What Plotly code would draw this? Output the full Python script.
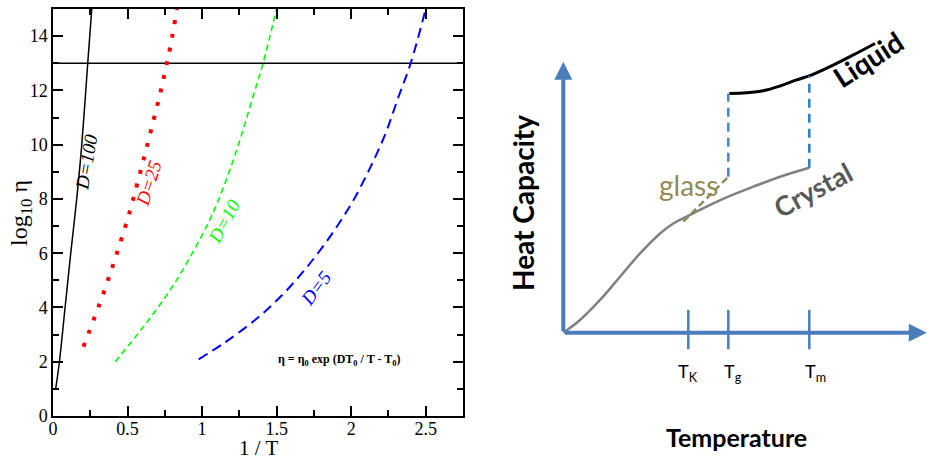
import plotly.graph_objects as go

# ---------------- Left panel data (1/T vs log10 eta) ----------------
d100_x = [0.018, 0.043, 0.081, 0.119, 0.159, 0.193, 0.233, 0.26]
d100_y = [1.0, 2.0, 4.0, 6.0, 8.0, 10.0, 13.0, 15.0]

d25_x = [0.204, 0.338, 0.432, 0.517, 0.569, 0.618, 0.665, 0.714, 0.75, 0.79, 0.831]
d25_y = [2.55, 4.52, 6.06, 7.57, 8.64, 9.68, 10.7, 11.77, 12.65, 13.7, 15.0]

d10_x = [0.417, 0.607, 0.786, 0.921, 1.04, 1.11, 1.194, 1.268, 1.335, 1.409, 1.499]
d10_y = [2.0, 3.29, 4.64, 5.87, 7.1, 7.96, 9.19, 10.42, 11.65, 13.0, 15.0]

d5_x = [0.977, 1.145, 1.369, 1.548, 1.705, 1.843, 1.948, 2.02, 2.131, 2.231, 2.31, 2.399, 2.5]
d5_y = [2.09, 2.68, 3.6, 4.52, 5.5, 6.49, 7.35, 8.0, 9.19, 10.42, 11.65, 13.0, 15.0]

glass_viscosity = 13
x_limits = [0, 2.75]
x_ticks = [0, 0.5, 1, 1.5, 2, 2.5]
x_ticklabels = ["0", "0.5", "1", "1.5", "2", "2.5"]
y_ticks = [0, 2, 4, 6, 8, 10, 12, 14]

# ---------------- Right panel data (schematic heat capacity) ----------------
crystal_T = [0, 0.67, 1.47, 2.27, 3.07, 3.87, 4.4, 4.93, 5.73, 6.6, 7.6, 8.67, 9.84]
crystal_C = [0, 0.51, 1.31, 2.24, 3.17, 3.97, 4.37, 4.64, 5.04, 5.44, 5.84, 6.24, 6.6]
liquid_T = [6.64, 7.33, 8.0, 8.67, 9.33, 9.84, 10.67, 11.6, 12.47]
liquid_C = [9.57, 9.6, 9.68, 9.87, 10.11, 10.27, 10.64, 11.11, 11.57]
glass_T = [4.8, 6.6]
glass_C = [4.44, 6.24]
T_K, T_g, T_m = 5.0, 6.6, 9.84
Tg_jump = [6.24, 9.57]
Tm_jump = [6.6, 10.27]
axis_T_end = 14.54
axis_C_end = 10.84
tick_span = [-0.66, 0.91]

serif = "Liberation Serif"
sans = "Lato"
axis_blue = "#4a7ebb"

fig = go.Figure()

# left panel traces
fig.add_trace(go.Scatter(x=x_limits, y=[glass_viscosity, glass_viscosity], mode="lines",
                         line=dict(color="black", width=1.5), xaxis="x", yaxis="y"))
fig.add_trace(go.Scatter(x=d100_x, y=d100_y, mode="lines", line=dict(color="black", width=1.5, shape="spline"),
                         xaxis="x", yaxis="y"))
fig.add_trace(go.Scatter(x=d25_x, y=d25_y, mode="lines",
                         line=dict(color="#ff0000", width=4, dash="4px,10px", shape="spline"),
                         xaxis="x", yaxis="y"))
fig.add_trace(go.Scatter(x=d10_x, y=d10_y, mode="lines",
                         line=dict(color="#00ff00", width=1.6, dash="6px,4px", shape="spline"),
                         xaxis="x", yaxis="y"))
fig.add_trace(go.Scatter(x=d5_x, y=d5_y, mode="lines",
                         line=dict(color="#0000ff", width=2, dash="10px,6px", shape="spline"),
                         xaxis="x", yaxis="y"))

# right panel traces
fig.add_trace(go.Scatter(x=crystal_T, y=crystal_C, mode="lines",
                         line=dict(color="#808080", width=2.5, shape="spline"), xaxis="x2", yaxis="y2"))
fig.add_trace(go.Scatter(x=liquid_T, y=liquid_C, mode="lines",
                         line=dict(color="black", width=3, shape="spline"), xaxis="x2", yaxis="y2"))
fig.add_trace(go.Scatter(x=glass_T, y=glass_C, mode="lines",
                         line=dict(color="#948a54", width=2.5, dash="7px,4px"), xaxis="x2", yaxis="y2"))
fig.add_trace(go.Scatter(x=[T_g, T_g], y=Tg_jump, mode="lines",
                         line=dict(color="#4a86c8", width=2.5, dash="9px,6px"), xaxis="x2", yaxis="y2"))
fig.add_trace(go.Scatter(x=[T_m, T_m], y=Tm_jump, mode="lines",
                         line=dict(color="#2a7cc7", width=2.5, dash="9px,6px"), xaxis="x2", yaxis="y2"))
for t in [T_K, T_g, T_m]:
    fig.add_trace(go.Scatter(x=[t, t], y=tick_span, mode="lines",
                             line=dict(color=axis_blue, width=2.5), xaxis="x2", yaxis="y2"))

annotations = []
# axis arrows
annotations.append(dict(x=axis_T_end, y=0, ax=0, ay=0, xref="x2", yref="y2", axref="x2", ayref="y2",
                        text="", showarrow=True, arrowhead=2, arrowsize=0.9, arrowwidth=4, arrowcolor=axis_blue))
annotations.append(dict(x=0, y=axis_C_end, ax=0, ay=0, xref="x2", yref="y2", axref="x2", ayref="y2",
                        text="", showarrow=True, arrowhead=2, arrowsize=0.9, arrowwidth=4, arrowcolor=axis_blue))

# left panel labels
def lab(x, y, text, color, angle, size=19):
    annotations.append(dict(x=x, y=y, xref="x", yref="y", text=text, showarrow=False, textangle=angle,
                            xanchor="center", yanchor="middle",
                            font=dict(family=serif, size=size, color=color)))

lab(0.226, 9.37, "<i>D=100</i>", "black", -80)
lab(0.64, 8.58, "<i>D=25</i>", "#ff0000", -72)
lab(1.149, 7.16, "<i>D=10</i>", "#00ff00", -62)
lab(1.761, 4.71, "<i>D=5</i>", "#0000ff", -53)
annotations.append(dict(x=1.915, y=2.07, xref="x", yref="y", showarrow=False,
                        xanchor="center", yanchor="middle",
                        text="<b>η = η<sub>0</sub> exp (DT<sub>0</sub> / T - T<sub>0</sub>)</b>",
                        font=dict(family=serif, size=12, color="black")))
annotations.append(dict(x=21 / 927, y=1 - 213 / 461, xref="paper", yref="paper", showarrow=False,
                        xanchor="center", yanchor="middle",
                        text="log<sub>10</sub> η", textangle=-90, font=dict(family=serif, size=24, color="black")))
annotations.append(dict(x=258 / 927, y=1 - 448 / 461, xref="paper", yref="paper", showarrow=False,
                        xanchor="center", yanchor="middle",
                        text="1 / T", font=dict(family=serif, size=21, color="black")))

# right panel labels
def rlab(x, y, text, color, angle=0, size=22, bold=True):
    annotations.append(dict(x=x, y=y, xref="x2", yref="y2", text=("<b>%s</b>" % text) if bold else text,
                            showarrow=False, textangle=angle, xanchor="center", yanchor="middle",
                            font=dict(family=sans, size=size, color=color)))

rlab(5.0, 5.91, "glass", "#948a54", 0, 28, False)
rlab(10.0, 5.71, "Crystal", "#595959", -28, 27)
rlab(12.2, 10.94, "Liquid", "black", -33, 28)
rlab(-1.61, 5.19, "Heat Capacity", "black", -90, 28)
rlab(6.94, -4.17, "Temperature", "black", 0, 25)
rlab(T_K, -1.61, "T<sub>K</sub>", "black", 0, 18, False)
rlab(T_g + 0.19, -1.61, "T<sub>g</sub>", "black", 0, 18, False)
rlab(T_m + 0.23, -1.61, "T<sub>m</sub>", "black", 0, 18, False)

fig.update_layout(
    width=927, height=461, margin=dict(l=0, r=0, t=0, b=0),
    paper_bgcolor="white", plot_bgcolor="white", showlegend=False,
    annotations=annotations,
    xaxis=dict(domain=[53 / 927, 463 / 927], range=x_limits, tickvals=x_ticks, ticktext=x_ticklabels,
               ticks="inside", ticklen=10, tickwidth=1.5, tickcolor="black", ticklabelstandoff=-4,
               showline=True, linecolor="black", linewidth=1.5, mirror="ticks", automargin=False,
               showgrid=False, zeroline=False, tickfont=dict(family=serif, size=18, color="black"),
               minor=dict(ticks="inside", ticklen=6, dtick=0.25, tickwidth=1.5, tickcolor="black", showgrid=False),
               anchor="y"),
    yaxis=dict(domain=[45 / 461, 452 / 461], range=[0, 15], tickvals=y_ticks,
               ticks="inside", ticklen=10, tickwidth=1.5, tickcolor="black",
               showline=True, linecolor="black", linewidth=1.5, mirror="ticks", automargin=False,
               showgrid=False, zeroline=False, tickfont=dict(family=serif, size=18, color="black"),
               minor=dict(ticks="inside", ticklen=6, dtick=1, tickwidth=1.5, tickcolor="black", showgrid=False),
               anchor="x"),
    xaxis2=dict(domain=[480 / 927, 1.0], range=[-3.332, 14.548], visible=False, anchor="y2", automargin=False),
    yaxis2=dict(domain=[0, 1], range=[-5.132, 13.308], visible=False, anchor="x2", automargin=False),
)

fig.write_html("out.html")
